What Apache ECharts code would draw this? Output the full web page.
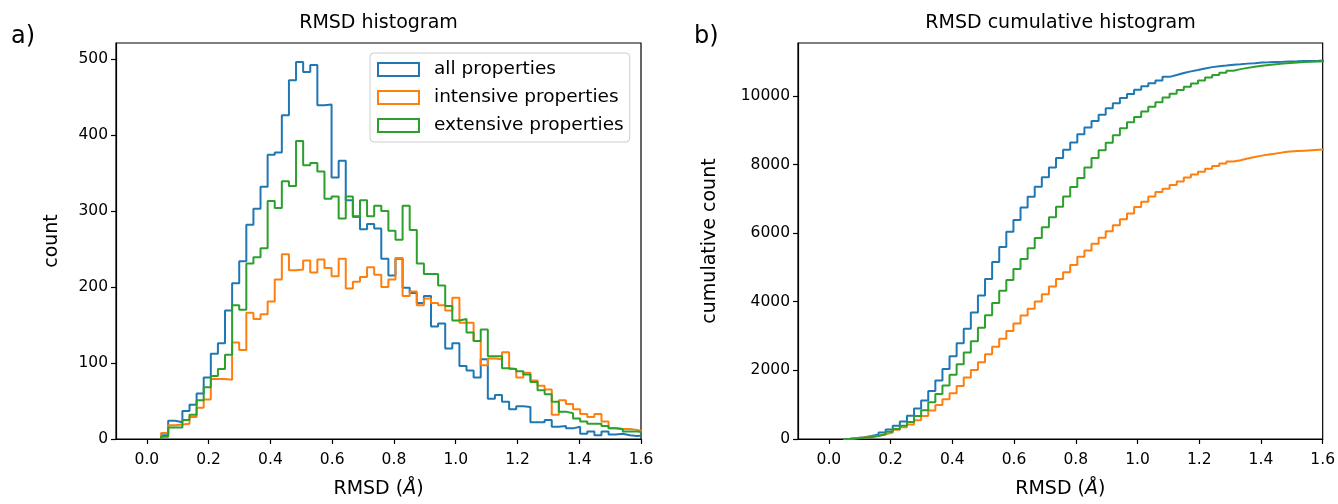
<!DOCTYPE html>
<html>
<head>
<meta charset="utf-8">
<script src="https://cdn.jsdelivr.net/npm/echarts@6/dist/echarts.min.js"></script>
<style>
  html, body { margin: 0; padding: 0; background: #fff; }
  #main { width: 1338px; height: 504px; }
</style>
</head>
<body>
<div id="main"></div>
<script>
// histogram bins (RMSD, Å)
const binStart = 0.046;
const binWidth = 0.023;

const seriesNames = ["all properties", "intensive properties", "extensive properties"];
const colors = ["#1f77b4", "#ff7f0e", "#2ca02c"];

// counts per bin
const allCounts = [
  5, 24, 22, 37, 45, 60, 81, 112, 126, 169, 205, 234, 282, 303, 332, 374,
  377, 426, 472, 496, 483, 492, 439, 440, 344, 366, 314, 293, 276, 283, 277, 237, 215, 237,
  199, 192, 179, 188, 148, 152, 119, 126, 96, 90, 81, 105, 53, 58, 49, 39, 43,
  42, 22, 22, 25, 16, 17, 14, 16, 7, 10, 5, 10, 6, 7, 5, 4, 5
];
const intensiveCounts = [
  8, 18, 19, 20, 29, 41, 52, 79, 79, 78, 127, 117, 166, 158, 164, 181,
  210, 243, 222, 223, 235, 219, 236, 225, 214, 237, 198, 207, 213, 226, 216, 200, 210, 238,
  188, 194, 176, 185, 179, 176, 169, 186, 153, 153, 129, 97, 106, 105, 114, 92, 81,
  87, 77, 70, 65, 32, 51, 46, 39, 33, 29, 33, 23, 14, 13, 13, 12, 10
];
const extensiveCounts = [
  3, 15, 15, 25, 32, 51, 68, 83, 92, 111, 176, 170, 231, 239, 251, 313,
  304, 339, 333, 392, 360, 363, 352, 316, 319, 290, 319, 292, 314, 293, 307, 300, 274, 262,
  307, 275, 231, 217, 217, 202, 175, 156, 158, 140, 129, 144, 109, 109, 93, 92, 89,
  85, 75, 64, 59, 49, 36, 34, 27, 23, 20, 20, 17, 14, 13, 10, 10, 9
];

const xTicks = [0, 0.2, 0.4, 0.6, 0.8, 1.0, 1.2, 1.4, 1.6];
const countTicks = [0, 100, 200, 300, 400, 500];
const cumulativeTicks = [0, 2000, 4000, 6000, 8000, 10000];

const font = "DejaVu Sans";

// outline of a step histogram, like matplotlib histtype="step"
function stepLine(counts) {
  const pts = [[binStart, 0]];
  counts.forEach((c, i) => {
    pts.push([binStart + i * binWidth, c]);
    pts.push([binStart + (i + 1) * binWidth, c]);
  });
  return pts;
}

function cumsum(counts) {
  let s = 0;
  return counts.map(c => (s += c));
}

const countData = [allCounts, intensiveCounts, extensiveCounts];

function makeXAxis(gridIndex) {
  return {
    type: "value", gridIndex: gridIndex, min: -0.1, max: 1.6,
    name: "RMSD ({i|Å})", nameLocation: "middle", nameGap: 41,
    nameTextStyle: { fontFamily: font, fontSize: 19, color: "#000",
      rich: { i: { fontFamily: font, fontSize: 19, fontStyle: "italic", color: "#000" } } },
    axisLine: { show: true, onZero: false, lineStyle: { color: "#000", width: 1.2 } },
    axisTick: { show: true, inside: false, length: 5, customValues: xTicks, lineStyle: { color: "#000", width: 1.2 } },
    axisLabel: { customValues: xTicks, formatter: v => v.toFixed(1), fontFamily: font, fontSize: 15.5, color: "#000", margin: 13 },
    splitLine: { show: false }
  };
}

function makeYAxis(gridIndex, max, ticks, name, gap) {
  return {
    type: "value", gridIndex: gridIndex, min: 0, max: max,
    name: name, nameLocation: "middle", nameGap: gap, nameRotate: 90,
    nameTextStyle: { fontFamily: font, fontSize: 19, color: "#000" },
    axisLine: { show: true, onZero: false, lineStyle: { color: "#000", width: 1.2 } },
    axisTick: { show: true, inside: false, length: 5, customValues: ticks, lineStyle: { color: "#000", width: 1.2 } },
    axisLabel: { customValues: ticks, formatter: v => String(v), fontFamily: font, fontSize: 15.5, color: "#000", margin: 8 },
    splitLine: { show: false }
  };
}

const series = [];
countData.forEach((counts, i) => {
  series.push({
    name: seriesNames[i], type: "line", xAxisIndex: 0, yAxisIndex: 0,
    data: stepLine(counts), showSymbol: false, symbol: "none",
    lineStyle: { color: colors[i], width: 2 }, itemStyle: { color: colors[i] },
    clip: true, z: 2 + i
  });
});
countData.forEach((counts, i) => {
  series.push({
    name: seriesNames[i], type: "line", xAxisIndex: 1, yAxisIndex: 1,
    data: stepLine(cumsum(counts)), showSymbol: false, symbol: "none",
    lineStyle: { color: colors[i], width: 2 }, itemStyle: { color: colors[i] },
    clip: true, z: 2 + i
  });
});

const chart = echarts.init(document.getElementById("main"), null, { renderer: "canvas" });
chart.setOption({
  animation: false,
  backgroundColor: "#fff",
  title: [
    { text: "RMSD histogram", left: 378.5, top: 14, textAlign: "center", padding: 0,
      textStyle: { fontFamily: font, fontSize: 19, fontWeight: "normal", color: "#000" } },
    { text: "RMSD cumulative histogram", left: 1060.5, top: 14, textAlign: "center", padding: 0,
      textStyle: { fontFamily: font, fontSize: 19, fontWeight: "normal", color: "#000" } },
    { text: "a)", left: 11, top: 25, padding: 0,
      textStyle: { fontFamily: font, fontSize: 24, fontWeight: "normal", color: "#000" } },
    { text: "b)", left: 694, top: 25, padding: 0,
      textStyle: { fontFamily: font, fontSize: 24, fontWeight: "normal", color: "#000" } }
  ],
  legend: {
    left: 370, top: 53, orient: "vertical",
    padding: [7, 6, 7, 7], itemWidth: 41, itemHeight: 13, itemGap: 9,
    backgroundColor: "rgba(255,255,255,0.8)", borderColor: "#ccc", borderWidth: 1, borderRadius: 4,
    textStyle: { fontFamily: font, fontSize: 18.5, color: "#000", padding: [0, 0, 0, 10] },
    data: seriesNames.map((n, i) => ({
      name: n, icon: "rect",
      itemStyle: { color: "rgba(255,255,255,0)", borderColor: colors[i], borderWidth: 2 }
    }))
  },
  grid: [
    { left: 116, top: 43, width: 525, height: 401, show: true, borderColor: "#000", borderWidth: 1.2, containLabel: false },
    { left: 798, top: 43, width: 525, height: 401, show: true, borderColor: "#000", borderWidth: 1.2, containLabel: false }
  ],
  xAxis: [makeXAxis(0), makeXAxis(1)],
  yAxis: [
    makeYAxis(0, 521, countTicks, "count", 54),
    makeYAxis(1, 11540, cumulativeTicks, "cumulative count", 78)
  ],
  series: series
});
</script>
</body>
</html>
